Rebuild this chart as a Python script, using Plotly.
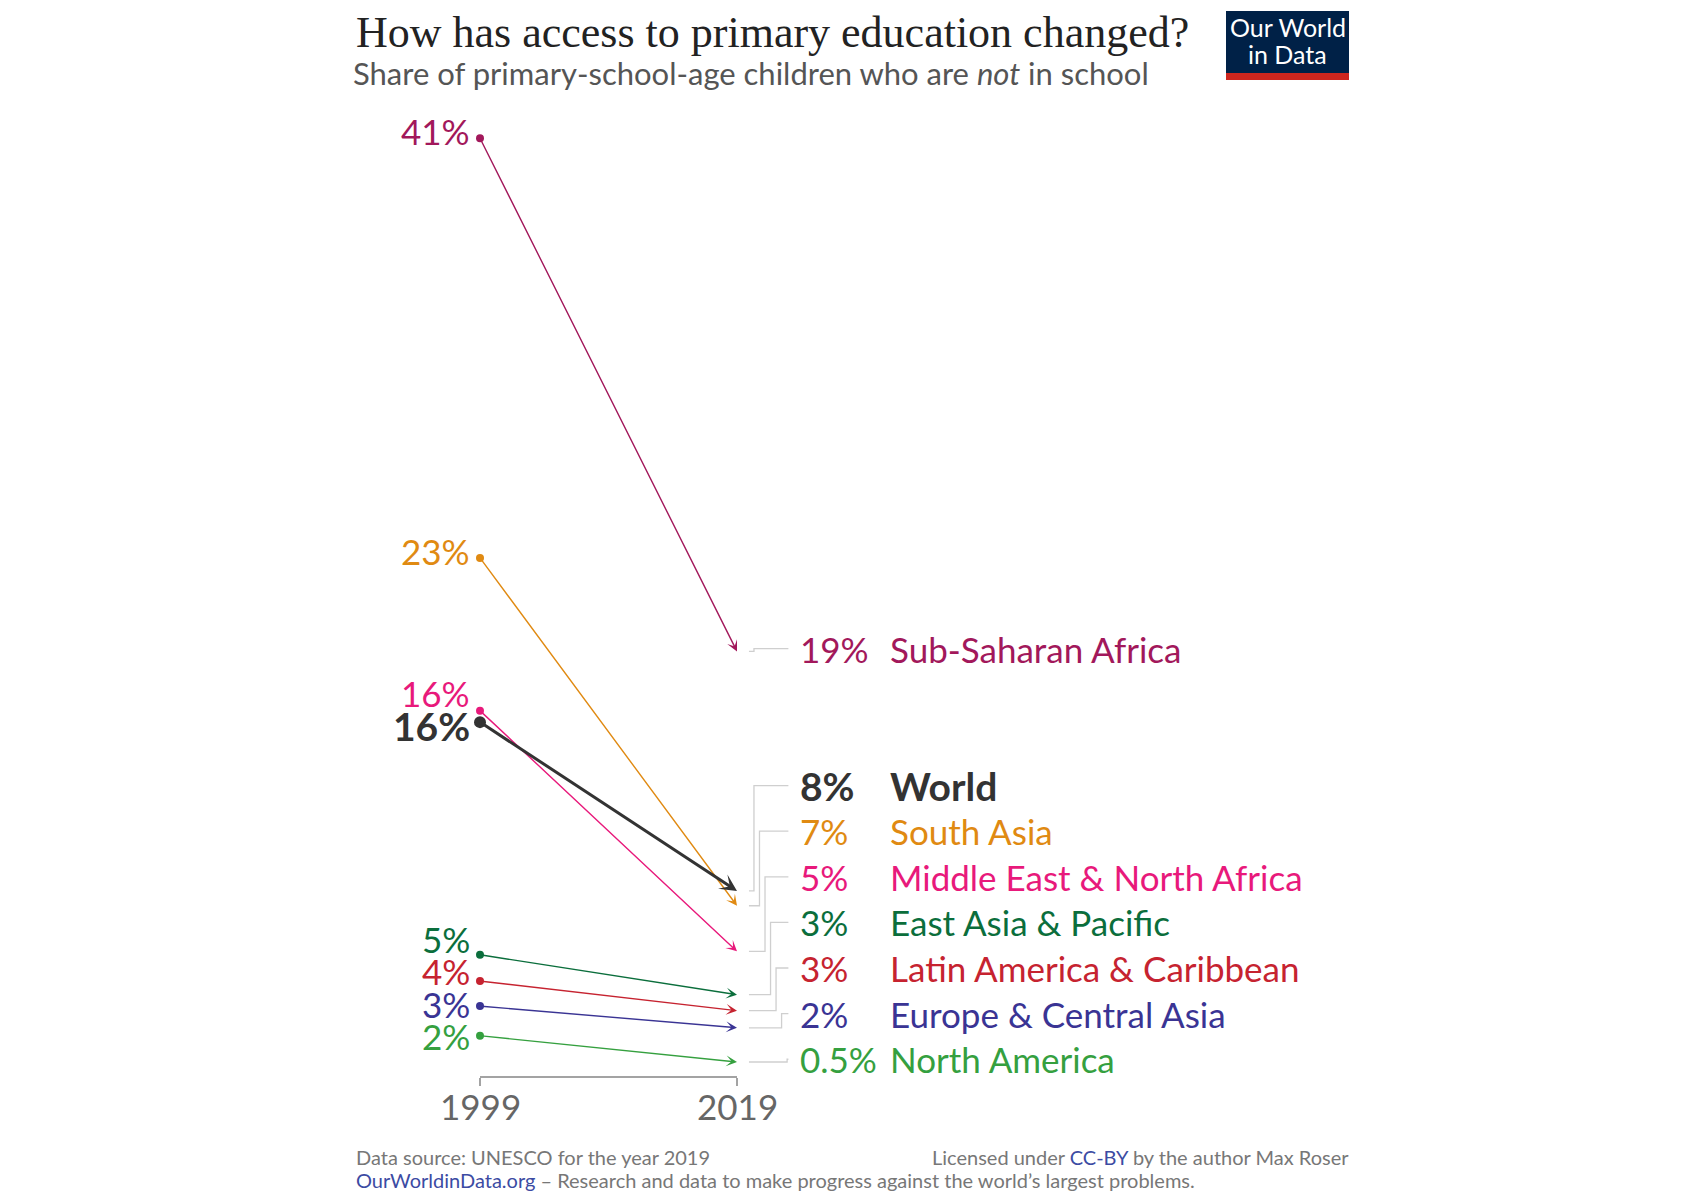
import plotly.graph_objects as go

# ---------------- data ----------------
regions = ["Sub-Saharan Africa", "South Asia", "Middle East & North Africa", "World",
           "East Asia & Pacific", "Latin America & Caribbean", "Europe & Central Asia",
           "North America"]
years = [1999, 2019]
share_1999 = [41.0, 22.6, 15.9, 15.4, 5.2, 4.05, 2.95, 1.65]
share_2019 = [18.5, 7.35, 5.35, 8.0, 3.45, 2.75, 2.0, 0.5]
labels_1999 = ["41%", "23%", "16%", "16%", "5%", "4%", "3%", "2%"]
labels_2019 = ["19%", "7%", "5%", "8%", "3%", "3%", "2%", "0.5%"]
colors = ["#A2185B", "#E08A12", "#E8197B", "#333333",
          "#0B6E3C", "#C62330", "#3A3494", "#35A03F"]
highlight = "World"

FONT = "Lato"

# ---------------- page geometry ----------------
OX, OY = 8, 8            # page body margin
W, H = 1684, 1184        # figure size
PX_PER_YEAR = 12.85
PX_PER_PCT = 22.81
X_1999 = 480 - OX        # figure px of first year
Y_ZERO = 1073.4 - OY     # figure px of 0 %


def px(xs):
    return (xs - OX) / W


def py(ys):
    return 1 - (ys - OY) / H


x_lo = years[0] - X_1999 / PX_PER_YEAR
x_hi = x_lo + W / PX_PER_YEAR
y_hi = Y_ZERO / PX_PER_PCT
y_lo = (Y_ZERO - H) / PX_PER_PCT


def dodge_up(vals, gap, lift):
    order = sorted(range(len(vals)), key=lambda i: vals[i])
    pos = [0.0] * len(vals)
    prev = None
    for i in order:
        p = vals[i] + lift
        if prev is not None and p < prev + gap:
            p = prev + gap
        pos[i] = p
        prev = p
    return pos


def dodge_centered(vals, gap, lift):
    order = sorted(range(len(vals)), key=lambda i: vals[i])
    clusters = [[i] for i in order]

    def place(cl):
        m = sum(vals[i] for i in cl) / len(cl)
        n = len(cl)
        return [m + (k - (n - 1) / 2) * gap for k in range(n)]

    changed = True
    while changed:
        changed = False
        for k in range(len(clusters) - 1):
            a, b = place(clusters[k]), place(clusters[k + 1])
            if b[0] - a[-1] < gap - 1e-9:
                clusters[k] = clusters[k] + clusters[k + 1]
                del clusters[k + 1]
                changed = True
                break
    pos = [0.0] * len(vals)
    for cl in clusters:
        for i, p in zip(cl, place(cl)):
            pos[i] = p + lift
    return pos


left_pos = dodge_centered(share_1999, 1.42, 0.3)
right_pos = dodge_up(share_2019, 2.0, 0.12)
rank_2019 = sorted(range(len(share_2019)), key=lambda i: -share_2019[i])
rank_of = {i: r for r, i in enumerate(rank_2019)}

fig = go.Figure()
annotations = []
shapes = []

y0, y1 = years

# connectors from arrow tips to right-hand labels
for i, r in enumerate(regions):
    rk = rank_of[i]
    bend = y1 + 1.32 + 0.43 * max(rk - 1, 0)
    xs = [y1 + 0.93, bend, bend, y1 + 4.0]
    ys = [share_2019[i], share_2019[i], right_pos[i], right_pos[i]]
    fig.add_trace(go.Scatter(x=xs, y=ys, mode="lines",
                             line=dict(color="#cfcfcf", width=1.3),
                             hoverinfo="skip", showlegend=False))

draw_order = [i for i in range(len(regions)) if regions[i] != highlight] + \
             [i for i in range(len(regions)) if regions[i] == highlight]

for i in draw_order:
    is_w = regions[i] == highlight
    c = colors[i]
    annotations.append(dict(
        x=y1, y=share_2019[i], ax=y0, ay=share_1999[i],
        xref="x", yref="y", axref="x", ayref="y",
        text="", showarrow=True, arrowhead=3,
        arrowsize=0.95 if is_w else 1.3,
        arrowwidth=3 if is_w else 1.4,
        arrowcolor=c, standoff=0, startstandoff=0))
    fig.add_trace(go.Scatter(x=[y0], y=[share_1999[i]], mode="markers",
                             marker=dict(color=c, size=12 if is_w else 8),
                             hoverinfo="skip", showlegend=False, cliponaxis=False))
    fs = 39 if is_w else 35
    wrap = (lambda s: f"<b>{s}</b>") if is_w else (lambda s: s)
    annotations.append(dict(x=y0 - 0.65, y=left_pos[i], xref="x", yref="y",
                            text=wrap(labels_1999[i]), showarrow=False,
                            xanchor="right", yanchor="middle",
                            font=dict(family=FONT, size=fs, color=c)))
    annotations.append(dict(x=y1 + 4.75, y=right_pos[i], xref="x", yref="y",
                            text=wrap(labels_2019[i]), showarrow=False,
                            xanchor="left", yanchor="middle",
                            font=dict(family=FONT, size=fs, color=c)))
    annotations.append(dict(x=y1 + 11.75, y=right_pos[i], xref="x", yref="y",
                            text=wrap(regions[i]), showarrow=False,
                            xanchor="left", yanchor="middle",
                            font=dict(family=FONT, size=fs, color=c)))

axis_y = py(1077)

# axis bracket line
shapes.append(dict(type="line", xref="x", yref="paper", x0=y0, x1=y1,
                   y0=axis_y, y1=axis_y, line=dict(color="#a3a3a3", width=2)))
for yr in years:
    annotations.append(dict(x=yr, y=py(1106), xref="x", yref="paper",
                            text=str(yr), showarrow=False,
                            xanchor="center", yanchor="middle",
                            font=dict(family=FONT, size=35, color="#666666")))

# logo
shapes.append(dict(type="rect", xref="paper", yref="paper",
                   x0=px(1226), x1=px(1349), y0=py(80), y1=py(11),
                   fillcolor="#002147", line=dict(width=0)))
shapes.append(dict(type="rect", xref="paper", yref="paper",
                   x0=px(1226), x1=px(1349), y0=py(80), y1=py(73),
                   fillcolor="#CE261E", line=dict(width=0)))
annotations.append(dict(x=px(1287.5), y=py(27), xref="paper", yref="paper",
                        text="Our World", showarrow=False,
                        xanchor="center", yanchor="middle",
                        font=dict(family=FONT, size=25, color="white")))
annotations.append(dict(x=px(1287.5), y=py(54), xref="paper", yref="paper",
                        text="in Data", showarrow=False,
                        xanchor="center", yanchor="middle",
                        font=dict(family=FONT, size=25, color="white")))

# title & subtitle
annotations.append(dict(x=px(354), y=py(32), xref="paper", yref="paper",
                        text="How has access to primary education changed?",
                        showarrow=False, xanchor="left", yanchor="middle",
                        font=dict(family="Liberation Serif", size=44, color="#222222")))
annotations.append(dict(x=px(351), y=py(73), xref="paper", yref="paper",
                        text="Share of primary-school-age children who are <i>not</i> in school",
                        showarrow=False, xanchor="left", yanchor="middle",
                        font=dict(family=FONT, size=31, color="#555555")))

# footer
link = "#3C4BA3"
annotations.append(dict(x=px(354), y=py(1157), xref="paper", yref="paper",
                        text="Data source: UNESCO for the year 2019",
                        showarrow=False, xanchor="left", yanchor="middle",
                        font=dict(family=FONT, size=20, color="#777777")))
annotations.append(dict(x=px(1351), y=py(1157), xref="paper", yref="paper",
                        text=f"Licensed under <span style='color:{link}'>CC-BY</span> by the author Max Roser",
                        showarrow=False, xanchor="right", yanchor="middle",
                        font=dict(family=FONT, size=20, color="#777777")))
annotations.append(dict(x=px(354), y=py(1180), xref="paper", yref="paper",
                        text=f"<span style='color:{link}'>OurWorldinData.org</span> – Research and data to make progress against the world’s largest problems.",
                        showarrow=False, xanchor="left", yanchor="middle",
                        font=dict(family=FONT, size=20, color="#777777")))

fig.update_layout(
    width=W, height=H,
    margin=dict(l=0, r=0, t=0, b=0),
    plot_bgcolor="white", paper_bgcolor="white",
    showlegend=False,
    xaxis=dict(range=[x_lo, x_hi], tickvals=years, showticklabels=False,
               ticks="outside", ticklen=8, tickwidth=2, tickcolor="#a3a3a3",
               showgrid=False, zeroline=False, showline=False,
               anchor="free", position=axis_y, fixedrange=True),
    yaxis=dict(range=[y_lo, y_hi], visible=False, fixedrange=True),
    annotations=annotations,
    shapes=shapes,
)

fig.write_html("out.html")
